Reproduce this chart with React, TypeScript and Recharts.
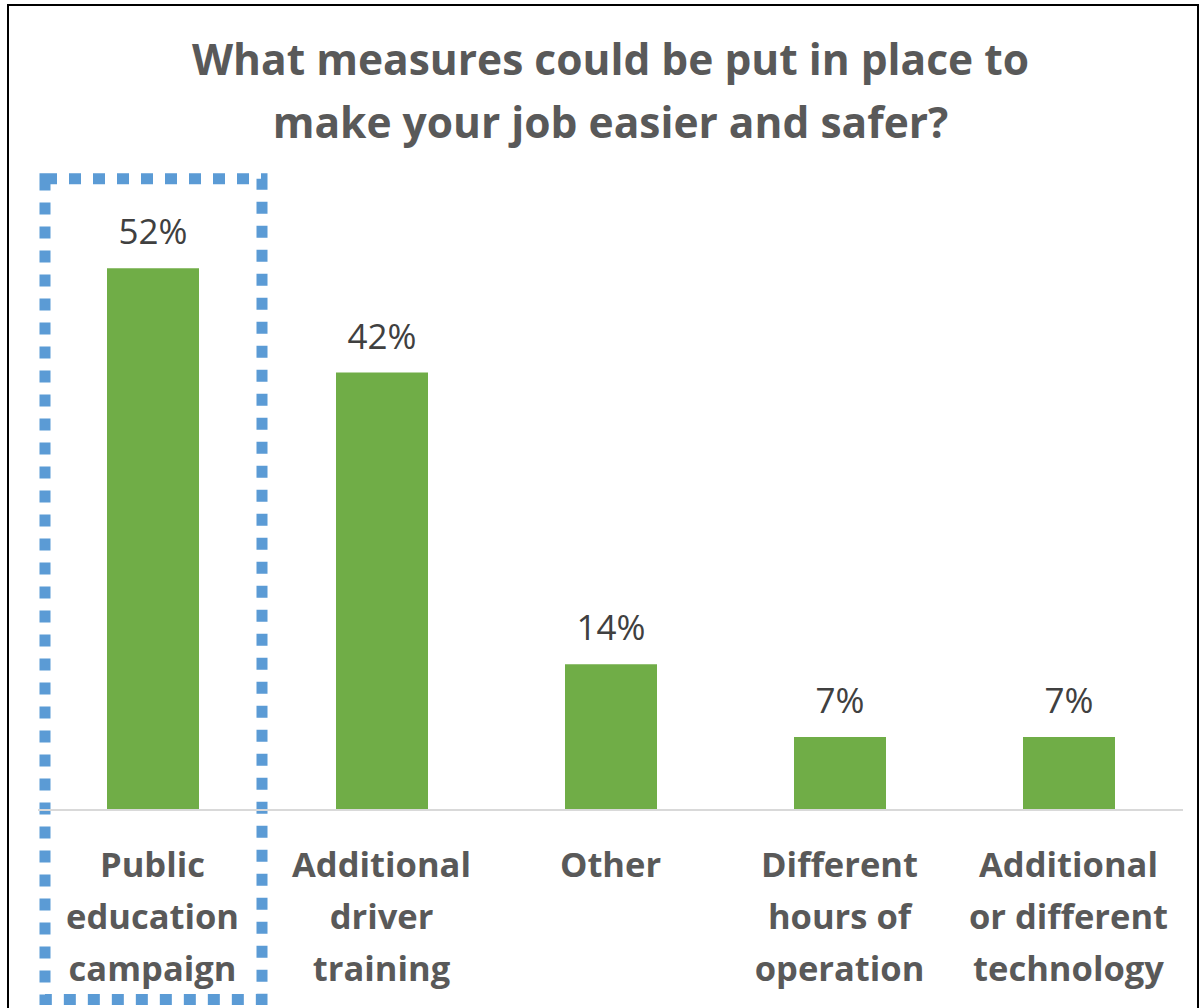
import React from "react";
import {
  BarChart,
  Bar,
  XAxis,
  YAxis,
  LabelList,
  ReferenceArea,
} from "recharts";

const categories = [
  "Public education campaign",
  "Additional driver training",
  "Other",
  "Different hours of operation",
  "Additional or different technology",
];
const shares = [52, 42, 14, 7, 7];
const tickLines = [
  ["Public", "education", "campaign"],
  ["Additional", "driver", "training"],
  ["Other"],
  ["Different", "hours of", "operation"],
  ["Additional", "or different", "technology"],
];
const titleLines = [
  "What measures could be put in place to",
  "make your job easier and safer?",
];

const data = categories.map((name, i) => ({ name, value: shares[i] }));

const FONT = "'Open Sans', sans-serif";

const CategoryTick = ({ x, y, payload }: any) => {
  const idx = categories.indexOf(payload.value);
  const lines = tickLines[idx] || [payload.value];
  return (
    <g transform={`translate(${x},${y})`}>
      {lines.map((line, i) => (
        <text
          key={i}
          x={0}
          y={59 + i * 52}
          textAnchor="middle"
          fontFamily={FONT}
          fontWeight={700}
          fontSize={34.5}
          fill="#595959"
        >
          {line}
        </text>
      ))}
    </g>
  );
};

const HighlightBox = (p: any) => (
  <rect
    x={p.x + 7}
    y={p.y}
    width={p.width - 12}
    height={p.height}
    fill="none"
    stroke="#5B9BD5"
    strokeWidth={11}
    strokeDasharray="12 12"
  />
);

export default function App() {
  return (
    <div
      style={{
        position: "absolute",
        left: 0,
        top: 0,
        width: 1199,
        height: 1008,
        overflow: "hidden",
        background: "#fff",
      }}
    >
      <div
        style={{
          position: "absolute",
          left: 7,
          top: 4,
          width: 1188,
          height: 1020,
          border: "2px solid #000",
        }}
      />
      <div
        style={{
          position: "absolute",
          left: 38,
          top: 27,
          width: 1145,
          textAlign: "center",
          fontFamily: FONT,
          fontWeight: 700,
          fontSize: 42.5,
          lineHeight: "63px",
          color: "#595959",
        }}
      >
        {titleLines.map((t, i) => (
          <div key={i}>{t}</div>
        ))}
      </div>
      <div style={{ position: "absolute", left: 0, top: 0 }}>
        <BarChart
          width={1199}
          height={1008}
          data={data}
          margin={{ top: 185, right: 16, left: 38, bottom: 8 }}
        >
          <XAxis
            dataKey="name"
            height={190}
            axisLine={{ stroke: "#D9D9D9", strokeWidth: 2 }}
            tickLine={false}
            interval={0}
            tick={<CategoryTick />}
          />
          <YAxis hide domain={[0, 60]} />
          <Bar
            dataKey="value"
            fill="#70AD47"
            barSize={92}
            isAnimationActive={false}
          >
            <LabelList
              dataKey="value"
              position="top"
              offset={24}
              formatter={(v: any) => `${v}%`}
              style={{
                fontFamily: FONT,
                fontSize: 35,
                fill: "#404040",
              }}
            />
          </Bar>
          <ReferenceArea
            x1={categories[0]}
            x2={categories[0]}
            y1={-18.2}
            y2={60.6}
            ifOverflow="visible"
            shape={<HighlightBox />}
          />
        </BarChart>
      </div>
    </div>
  );
}
